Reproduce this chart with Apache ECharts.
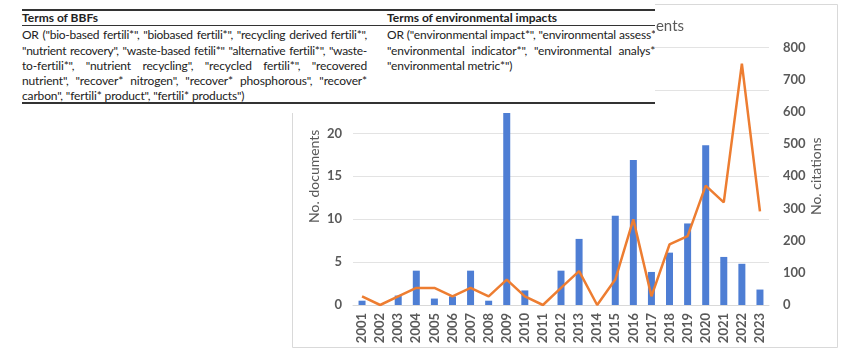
<!DOCTYPE html>
<html>
<head>
<meta charset="utf-8">
<script src="https://cdn.jsdelivr.net/npm/echarts@6/dist/echarts.min.js"></script>
<style>
  html, body { margin: 0; padding: 0; background: #fff; }
  #wrap { position: relative; width: 846px; height: 350px; }
  #chart { position: absolute; left: 0; top: 0; width: 846px; height: 350px; }
  /* table clipped over the top-left of the chart */
  #terms {
    position: absolute; left: 0; top: 0; width: 655px; height: 113px;
    background: #fff; overflow: hidden;
    font-family: Lato, "Noto Sans", sans-serif; font-size: 12px; color: #222;
    letter-spacing: -0.15px;
  }
  #terms .rule { position: absolute; left: 22px; width: 640px; background: #333; }
  #terms .col { position: absolute; width: 345px; }
  #terms .head { font-weight: bold; height: 16px; line-height: 16px; white-space: nowrap; letter-spacing: 0; }
  #terms .ln { height: 15.25px; line-height: 15.25px; white-space: nowrap; }
  #terms .ln span { display: inline-block; }
</style>
</head>
<body>
<div id="wrap">
  <div id="chart"></div>
  <div id="terms">
    <div class="rule" style="top:9px;height:2px;"></div>
    <div class="rule" style="top:25px;height:1px;"></div>
    <div class="rule" style="top:102px;height:2px;"></div>
    <div class="col" style="left:22px;top:10px;">
      <div class="head">Terms of BBFs</div>
      <div style="height:1.4px"></div>
      <div class="ln"><span class="j">OR ("bio-based fertili*", "biobased fertili*", "recycling derived fertili*",</span></div>
      <div class="ln"><span class="j">"nutrient recovery", "waste-based fetili*" "alternative fertili*", "waste-</span></div>
      <div class="ln"><span class="j">to-fertili*", "nutrient recycling", "recycled fertili*", "recovered</span></div>
      <div class="ln"><span class="j">nutrient", "recover* nitrogen", "recover* phosphorous", "recover*</span></div>
      <div class="ln"><span>carbon", "fertili* product", "fertili* products")</span></div>
    </div>
    <div class="col" style="left:387px;top:10px;width:400px;">
      <div class="head">Terms of environmental impacts</div>
      <div style="height:1.4px"></div>
      <div class="ln"><span>OR ("environmental impact*", "environmental assess*",</span></div>
      <div class="ln"><span style="word-spacing:4px;">"environmental indicator*", "environmental analys*",</span></div>
      <div class="ln"><span>"environmental metric*")</span></div>
    </div>
  </div>
</div>
<script>
// justify the BBF column lines to the column width
var colWidth = 345;
document.querySelectorAll('#terms .j').forEach(function (el) {
    var text = el.textContent;
    var gaps = text.split(' ').length - 1;
    var w = el.getBoundingClientRect().width;
    if (w + gaps > colWidth) {
        // too wide: tighten letters, keep at least 1px extra per space
        el.style.letterSpacing = (-0.15 + (colWidth - gaps - w) / text.length) + 'px';
        w = el.getBoundingClientRect().width;
    }
    if (gaps > 0) el.style.wordSpacing = ((colWidth - w) / gaps) + 'px';
});

var years = ['2001','2002','2003','2004','2005','2006','2007','2008','2009','2010','2011','2012',
             '2013','2014','2015','2016','2017','2018','2019','2020','2021','2022','2023'];
var documents = [0.5, 0, 1.1, 4, 0.75, 1, 4, 0.5, 24, 1.7, 0, 4,
                 7.7, 0, 10.4, 16.9, 3.85, 6.1, 9.5, 18.6, 5.6, 4.8, 1.8];
var citations = [27, 0, 27, 53, 53, 27, 53, 27, 79, 27, 0, 53,
                 105, 0, 79, 266, 27, 188, 214, 371, 319, 750, 291];

var grey = '#595959';
var chart = echarts.init(document.getElementById('chart'));
chart.setOption({
    animation: false,
    textStyle: {fontFamily: 'Lato, "Noto Sans", sans-serif'},
    title: {
        text: 'Citations and documents',
        right: 157,
        top: 14,
        textStyle: {fontSize: 15, fontWeight: 'normal', color: grey}
    },
    graphic: [{
        type: 'rect',
        shape: {x: 292.5, y: 4.5, width: 545, height: 343},
        style: {fill: 'none', stroke: '#d9d9d9', lineWidth: 1},
        z: -10
    }],
    grid: {left: 353, right: 77, top: 47.5, bottom: 45},
    xAxis: {
        type: 'category',
        data: years,
        axisLine: {lineStyle: {color: '#d9d9d9'}},
        axisTick: {show: false},
        axisLabel: {rotate: 90, color: grey, fontSize: 13, fontWeight: 'bold', margin: 8, interval: 0}
    },
    yAxis: [{
        type: 'value',
        min: 0, max: 30, interval: 5,
        name: 'No. documents',
        nameLocation: 'middle',
        nameGap: 32,
        nameTextStyle: {color: grey, fontSize: 14},
        axisLabel: {color: grey, fontSize: 13, fontWeight: 'bold', margin: 11},
        splitLine: {lineStyle: {color: '#e3e3e3'}}
    }, {
        type: 'value',
        min: 0, max: 800, interval: 100,
        name: 'No. citations',
        nameLocation: 'middle',
        nameGap: 40,
        nameTextStyle: {color: grey, fontSize: 14},
        axisLabel: {color: grey, fontSize: 13, fontWeight: 'bold', margin: 14},
        splitLine: {show: false}
    }],
    series: [{
        name: 'No. documents',
        type: 'bar',
        data: documents,
        barWidth: 7,
        itemStyle: {color: '#4e7ed4'}
    }, {
        name: 'No. citations',
        type: 'line',
        yAxisIndex: 1,
        data: citations,
        symbol: 'none',
        lineStyle: {color: '#ed7d31', width: 2.5}
    }]
});
</script>
</body>
</html>
